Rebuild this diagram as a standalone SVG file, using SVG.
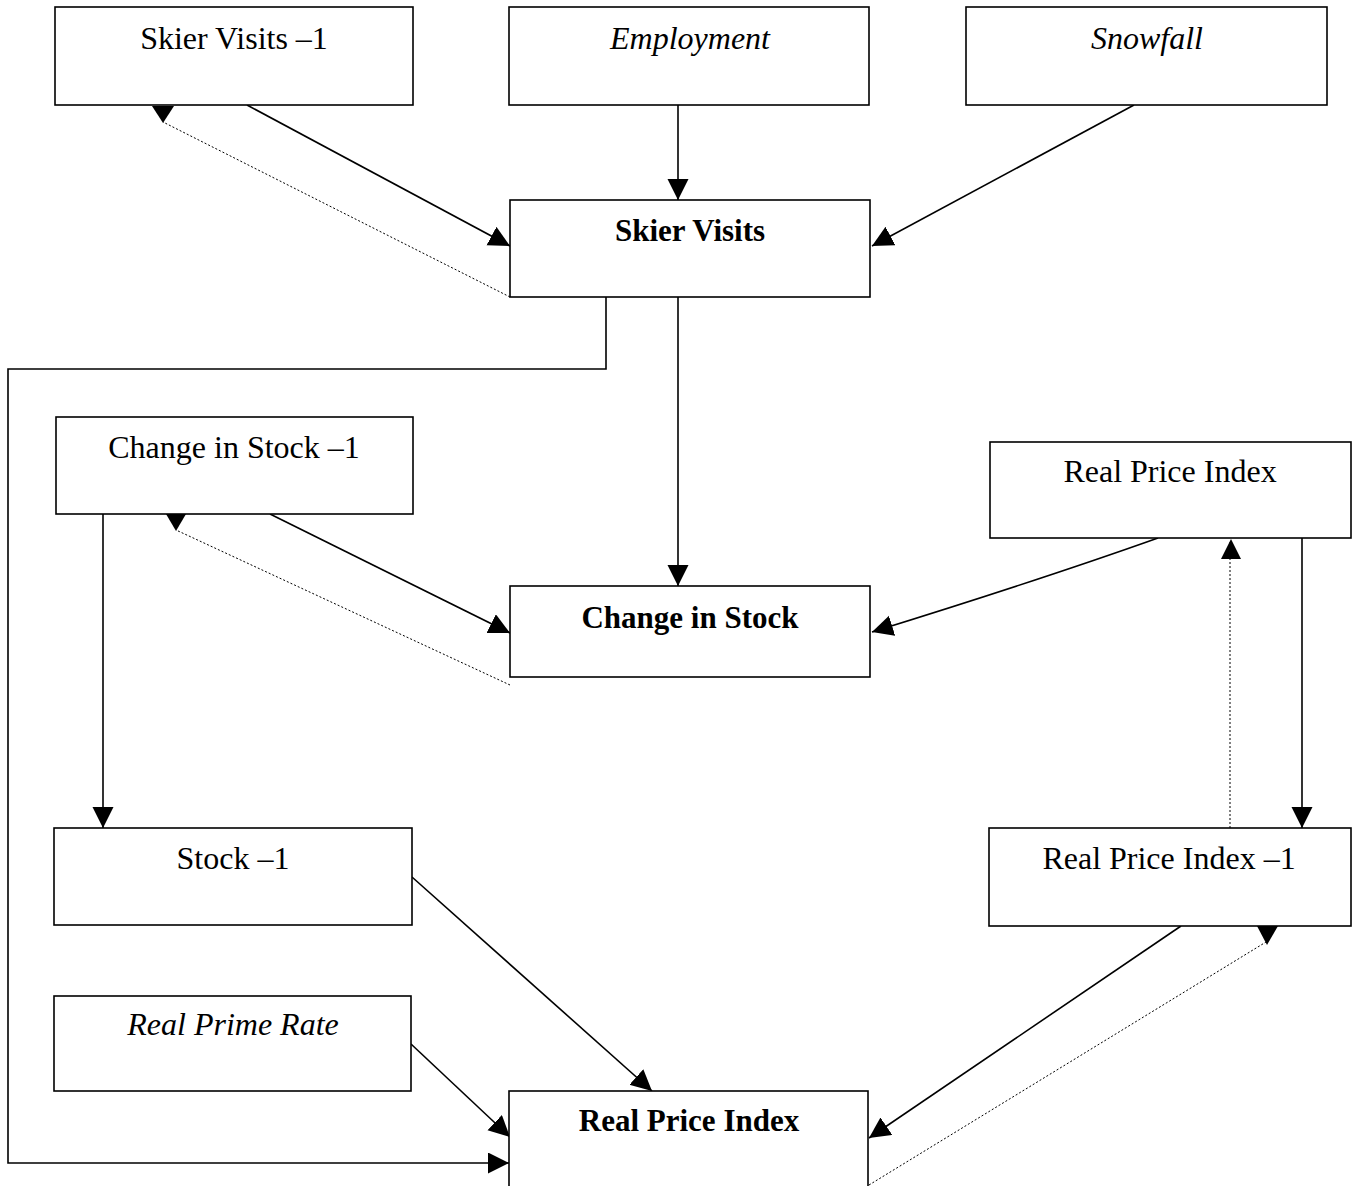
<svg xmlns="http://www.w3.org/2000/svg" width="1352" height="1186" viewBox="0 0 1352 1186">
<style>
.box{fill:#fff;stroke:#000;stroke-width:1.6}
.t{font-family:"Liberation Serif","Times New Roman",serif;font-size:32px;fill:#000;text-anchor:middle}
.i{font-style:italic}
.b{font-weight:bold;font-size:31px}
.ln{fill:none;stroke:#000;stroke-width:1.6}
.dot{fill:none;stroke:#000;stroke-width:1;stroke-dasharray:2 2}
.ah{fill:#000}
</style>
<defs>
<marker id="arr" markerUnits="userSpaceOnUse" markerWidth="24" markerHeight="24" refX="21" refY="10.5" orient="auto">
<path d="M0,0 L21,10.5 L0,21 z" fill="#000"/>
</marker>
</defs>
<rect width="1352" height="1186" fill="#fff"/>
<g id="connectors">
<line class="ln" x1="247" y1="105" x2="510" y2="246" marker-end="url(#arr)"/>
<polyline class="dot" points="510,297 163,122"/>
<polygon class="ah" points="152,106 174,106 163,123"/>
<line class="ln" x1="678" y1="105" x2="678" y2="200" marker-end="url(#arr)"/>
<line class="ln" x1="1134" y1="105" x2="872" y2="246" marker-end="url(#arr)"/>
<polyline class="ln" points="606,297 606,369 8,369 8,1163 509,1163" marker-end="url(#arr)"/>
<line class="ln" x1="678" y1="297" x2="678" y2="586" marker-end="url(#arr)"/>
<line class="ln" x1="270" y1="514" x2="510" y2="633" marker-end="url(#arr)"/>
<polyline class="dot" points="510,685 176,530"/>
<polygon class="ah" points="166,514 186,514 176,531"/>
<path class="ln" d="M1158,538 Q1040,580 872,632" marker-end="url(#arr)"/>
<line class="ln" x1="1302" y1="538" x2="1302" y2="828" marker-end="url(#arr)"/>
<line class="dot" x1="1230" y1="828" x2="1230" y2="542"/>
<polygon class="ah" points="1231,539 1221,559 1241,559"/>
<line class="ln" x1="103" y1="514" x2="103" y2="828" marker-end="url(#arr)"/>
<line class="ln" x1="412" y1="877" x2="652" y2="1091" marker-end="url(#arr)"/>
<line class="ln" x1="411" y1="1044" x2="510" y2="1137" marker-end="url(#arr)"/>
<line class="ln" x1="1181" y1="926" x2="869" y2="1138" marker-end="url(#arr)"/>
<line class="dot" x1="869" y1="1185" x2="1266" y2="942"/>
<polygon class="ah" points="1257,926 1278,926 1267,945"/>
</g>
<g id="skier-visits-lag"><rect class="box" x="55" y="7" width="358" height="98"/><text class="t" x="234" y="49">Skier Visits –1</text></g>
<g id="employment"><rect class="box" x="509" y="7" width="360" height="98"/><text class="t i" x="690" y="49">Employment</text></g>
<g id="snowfall"><rect class="box" x="966" y="7" width="361" height="98"/><text class="t i" x="1147" y="49">Snowfall</text></g>
<g id="skier-visits"><rect class="box" x="510" y="200" width="360" height="97"/><text class="t b" x="690" y="241">Skier Visits</text></g>
<g id="change-in-stock-lag"><rect class="box" x="56" y="417" width="357" height="97"/><text class="t" x="234" y="458">Change in Stock –1</text></g>
<g id="real-price-index-top"><rect class="box" x="990" y="442" width="361" height="96"/><text class="t" x="1170" y="482">Real Price Index</text></g>
<g id="change-in-stock"><rect class="box" x="510" y="586" width="360" height="91"/><text class="t b" x="690" y="628">Change in Stock</text></g>
<g id="stock-lag"><rect class="box" x="54" y="828" width="358" height="97"/><text class="t" x="233" y="869">Stock –1</text></g>
<g id="real-price-index-lag"><rect class="box" x="989" y="828" width="362" height="98"/><text class="t" x="1169" y="869">Real Price Index –1</text></g>
<g id="real-prime-rate"><rect class="box" x="54" y="996" width="357" height="95"/><text class="t i" x="233" y="1035">Real Prime Rate</text></g>
<g id="real-price-index"><rect class="box" x="509" y="1091" width="359" height="100"/><text class="t b" x="689" y="1131">Real Price Index</text></g>
</svg>
